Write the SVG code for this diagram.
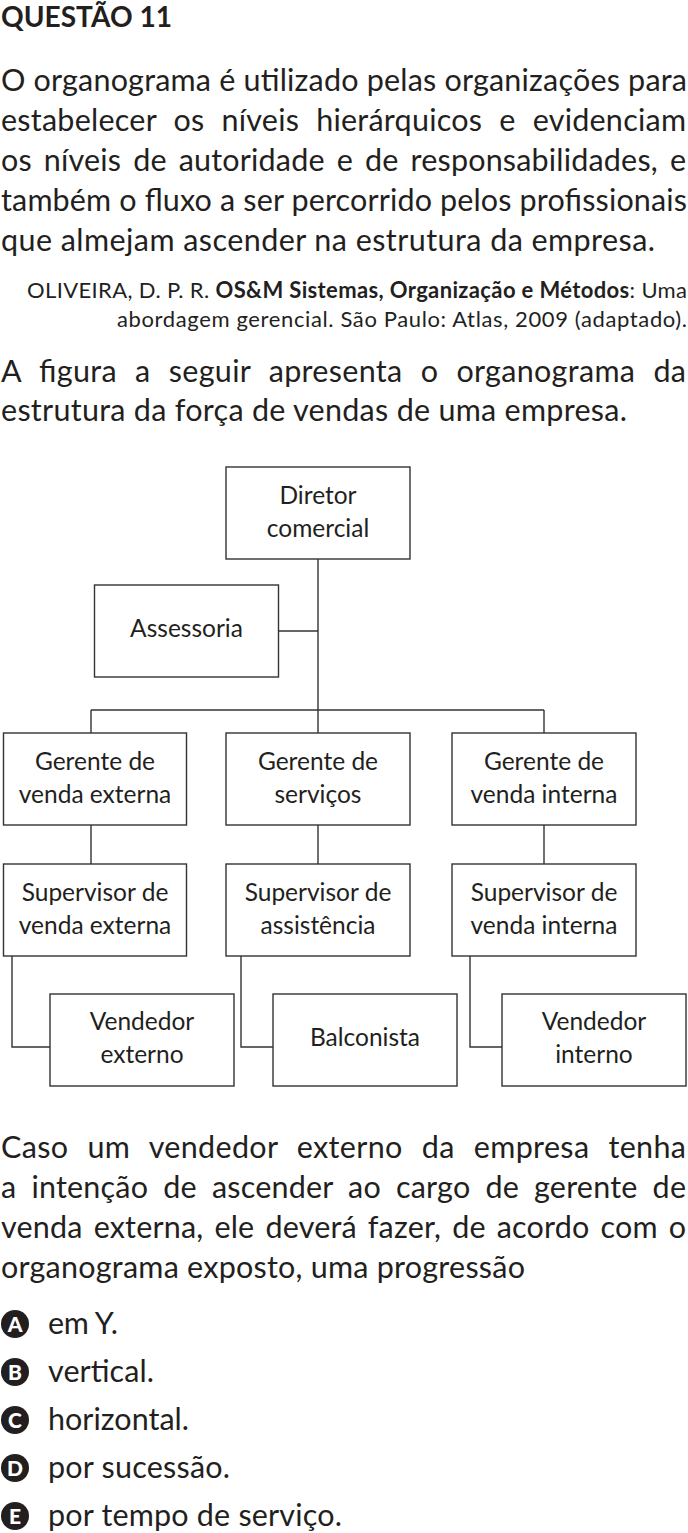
<svg xmlns="http://www.w3.org/2000/svg" width="688" height="1533" viewBox="0 0 688 1533">
<style>
text{font-family:Lato,"Liberation Sans",sans-serif;fill:#231f20}
.h{font-weight:bold;font-size:28px}
.b{font-size:30.5px}
.c{font-size:22px}
.bx{font-size:24.5px;text-anchor:middle}
.box{fill:#fff;stroke:#333;stroke-width:1.4}
.con{fill:none;stroke:#333;stroke-width:1.4}
.opt{fill:#231f20}
.ol{font-weight:900;font-size:21px;fill:#fff;text-anchor:middle}
</style>
<rect width="688" height="1533" fill="#fff"/>
<g id="heading">
<text class="h" x="1" y="27" textLength="171" lengthAdjust="spacingAndGlyphs">QUESTÃO 11</text>
</g>
<g id="intro">
<text class="b" x="1" y="90.5" textLength="686" lengthAdjust="spacing">O organograma é utilizado pelas organizações para</text>
<text class="b" x="1" y="130.5" word-spacing="9" textLength="685" lengthAdjust="spacing">estabelecer os níveis hierárquicos e evidenciam</text>
<text class="b" x="1" y="170.5" word-spacing="4" textLength="685" lengthAdjust="spacing">os níveis de autoridade e de responsabilidades, e</text>
<text class="b" x="1" y="210.5" textLength="686" lengthAdjust="spacing">também o fluxo a ser percorrido pelos profissionais</text>
<text class="b" x="1" y="250.5" textLength="654" lengthAdjust="spacing">que almejam ascender na estrutura da empresa.</text>
</g>
<g id="citation">
<text class="c" x="27" y="298" textLength="660" lengthAdjust="spacing">OLIVEIRA, D. P. R. <tspan font-weight="bold">OS&amp;M Sistemas, Organização e Métodos</tspan>: Uma</text>
<text class="c" x="117" y="326.5" textLength="570" lengthAdjust="spacing">abordagem gerencial. São Paulo: Atlas, 2009 (adaptado).</text>
</g>
<g id="lead">
<text class="b" x="1" y="381.5" word-spacing="10" textLength="685" lengthAdjust="spacing">A figura a seguir apresenta o organograma da</text>
<text class="b" x="1" y="421" textLength="626" lengthAdjust="spacing">estrutura da força de vendas de uma empresa.</text>
</g>
<g id="connectors">
<path class="con" d="M318 559V733"/>
<path class="con" d="M278.5 631H318"/>
<path class="con" d="M91 710H544"/>
<path class="con" d="M91 710V733"/>
<path class="con" d="M544 710V733"/>
<path class="con" d="M91 825V864"/>
<path class="con" d="M318 825V864"/>
<path class="con" d="M544 825V864"/>
<path class="con" d="M12 956V1047H50"/>
<path class="con" d="M241 956V1047H273"/>
<path class="con" d="M470 956V1047H502"/>
</g>
<g id="diretor-comercial">
<rect class="box" x="226" y="467" width="184" height="92"/>
<text class="bx" x="318" y="503.5">Diretor</text>
<text class="bx" x="318" y="536.5">comercial</text>
</g>
<g id="assessoria">
<rect class="box" x="94.5" y="585" width="184" height="92"/>
<text class="bx" x="186.5" y="637">Assessoria</text>
</g>
<g id="gerente-venda-externa">
<rect class="box" x="3.5" y="733" width="183" height="92"/>
<text class="bx" x="95" y="769.5">Gerente de</text>
<text class="bx" x="95" y="802.5">venda externa</text>
</g>
<g id="gerente-servicos">
<rect class="box" x="226" y="733" width="184" height="92"/>
<text class="bx" x="318" y="769.5">Gerente de</text>
<text class="bx" x="318" y="802.5">serviços</text>
</g>
<g id="gerente-venda-interna">
<rect class="box" x="452" y="733" width="184" height="92"/>
<text class="bx" x="544" y="769.5">Gerente de</text>
<text class="bx" x="544" y="802.5">venda interna</text>
</g>
<g id="supervisor-venda-externa">
<rect class="box" x="3.5" y="864" width="183" height="92"/>
<text class="bx" x="95" y="900.5">Supervisor de</text>
<text class="bx" x="95" y="933.5">venda externa</text>
</g>
<g id="supervisor-assistencia">
<rect class="box" x="226" y="864" width="184" height="92"/>
<text class="bx" x="318" y="900.5">Supervisor de</text>
<text class="bx" x="318" y="933.5">assistência</text>
</g>
<g id="supervisor-venda-interna">
<rect class="box" x="452" y="864" width="184" height="92"/>
<text class="bx" x="544" y="900.5">Supervisor de</text>
<text class="bx" x="544" y="933.5">venda interna</text>
</g>
<g id="vendedor-externo">
<rect class="box" x="50" y="994" width="184" height="92"/>
<text class="bx" x="142" y="1030">Vendedor</text>
<text class="bx" x="142" y="1063">externo</text>
</g>
<g id="balconista">
<rect class="box" x="273" y="994" width="184" height="92"/>
<text class="bx" x="365" y="1046">Balconista</text>
</g>
<g id="vendedor-interno">
<rect class="box" x="502" y="994" width="184" height="92"/>
<text class="bx" x="594" y="1030">Vendedor</text>
<text class="bx" x="594" y="1063">interno</text>
</g>
<g id="question">
<text class="b" x="1" y="1157.5" word-spacing="11" textLength="685" lengthAdjust="spacing">Caso um vendedor externo da empresa tenha</text>
<text class="b" x="1" y="1197.5" word-spacing="7" textLength="685" lengthAdjust="spacing">a intenção de ascender ao cargo de gerente de</text>
<text class="b" x="1" y="1237.5" word-spacing="3" textLength="685" lengthAdjust="spacing">venda externa, ele deverá fazer, de acordo com o</text>
<text class="b" x="1" y="1277.5" textLength="524" lengthAdjust="spacing">organograma exposto, uma progressão</text>
</g>
<g id="options">
<circle class="opt" cx="15" cy="1324" r="14"/><text class="ol" x="15" y="1331.5">A</text>
<text class="b" x="48" y="1334" textLength="70" lengthAdjust="spacing">em Y.</text>
<circle class="opt" cx="15" cy="1372" r="14"/><text class="ol" x="15" y="1379.5">B</text>
<text class="b" x="48" y="1382" textLength="106" lengthAdjust="spacing">vertical.</text>
<circle class="opt" cx="15" cy="1420" r="14"/><text class="ol" x="15" y="1427.5">C</text>
<text class="b" x="48" y="1430" textLength="141" lengthAdjust="spacing">horizontal.</text>
<circle class="opt" cx="15" cy="1468" r="14"/><text class="ol" x="15" y="1475.5">D</text>
<text class="b" x="48" y="1478" textLength="182" lengthAdjust="spacing">por sucessão.</text>
<circle class="opt" cx="15" cy="1516" r="14"/><text class="ol" x="15" y="1523.5">E</text>
<text class="b" x="48" y="1526" textLength="294" lengthAdjust="spacing">por tempo de serviço.</text>
</g>
</svg>
